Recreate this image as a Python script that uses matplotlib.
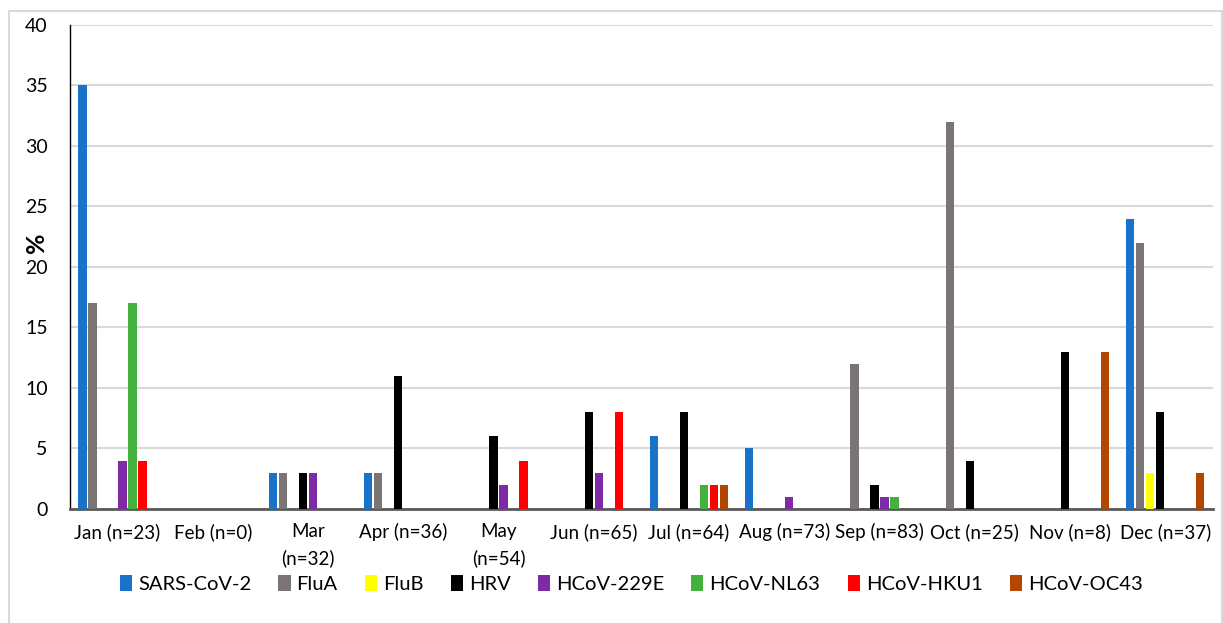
import matplotlib.pyplot as plt
import numpy as np
from matplotlib.patches import Rectangle

# monthly positivity (%) per virus
months = ['Jan (n=23)', 'Feb (n=0)', 'Mar\n(n=32)', 'Apr (n=36)', 'May\n(n=54)', 'Jun (n=65)',
          'Jul (n=64)', 'Aug (n=73)', 'Sep (n=83)', 'Oct (n=25)', 'Nov (n=8)', 'Dec (n=37)']
sars = [35, 0, 3, 3, 0, 0, 6, 5, 0, 0, 0, 24]
flua = [17, 0, 3, 3, 0, 0, 0, 0, 12, 32, 0, 22]
flub = [0, 0, 0, 0, 0, 0, 0, 0, 0, 0, 0, 3]
hrv = [0, 0, 3, 11, 6, 8, 8, 0, 2, 4, 13, 8]
hcov229e = [4, 0, 3, 0, 2, 3, 0, 1, 1, 0, 0, 0]
hcovnl63 = [17, 0, 0, 0, 0, 0, 2, 0, 1, 0, 0, 0]
hcovhku1 = [4, 0, 0, 0, 4, 8, 2, 0, 0, 0, 0, 0]
hcovoc43 = [0, 0, 0, 0, 0, 0, 2, 0, 0, 0, 13, 3]

series = [sars, flua, flub, hrv, hcov229e, hcovnl63, hcovhku1, hcovoc43]
names = ['SARS-CoV-2', 'FluA', 'FluB', 'HRV', 'HCoV-229E', 'HCoV-NL63', 'HCoV-HKU1', 'HCoV-OC43']
colors = ['#1a73c8', '#7a7474', '#ffff00', '#000000', '#7f2aa5', '#45b03e', '#ff0000', '#b34700']

plt.rcParams['font.family'] = ['Lato', 'DejaVu Sans']

fig = plt.figure(figsize=(12.23, 6.23), dpi=100)
ax = fig.add_axes([0.0572, 0.183, 0.9346, 0.777])

# light frame round the chart
fig.patches.append(Rectangle((9/1223, -0.1), 1213/1223, 1.1 - 11/623, transform=fig.transFigure,
                             fill=False, edgecolor='#d9d9d9', linewidth=1.5))

x = np.arange(len(months))
pitch = 0.105
w = 0.087
for i, (vals, name, col) in enumerate(zip(series, names, colors)):
    ax.bar(x + (i - 3.5) * pitch, vals, width=w, color=col, label=name, zorder=3)

ax.set_xlim(-0.5, len(months) - 0.5)
ax.set_ylim(0, 40)
ax.set_yticks(range(0, 41, 5))
ax.yaxis.grid(True, color='#d9d9d9', linewidth=1.5, zorder=0)
ax.set_axisbelow(True)

ax.set_xticks(x)
ax.set_xticklabels(months, fontsize=13.5, linespacing=1.65)
ax.tick_params(axis='x', length=0, pad=10)
ax.tick_params(axis='y', length=0, pad=16, labelsize=14)

for s in ['top', 'right']:
    ax.spines[s].set_visible(False)
ax.spines['left'].set_color('#000000')
ax.spines['left'].set_linewidth(1)
ax.spines['bottom'].set_color('#595959')
ax.spines['bottom'].set_linewidth(2)

ax.set_ylabel('%', fontsize=18, fontweight='bold', labelpad=2)
ax.yaxis.set_label_coords(-0.019, 0.55)

ax.legend(loc='upper center', bbox_to_anchor=(0.491, -0.098), ncol=8, frameon=False,
          prop={'size': 14.5}, handlelength=0.6, handleheight=0.9,
          handletextpad=0.3, columnspacing=1.35)

plt.savefig('out.png', dpi=100)
